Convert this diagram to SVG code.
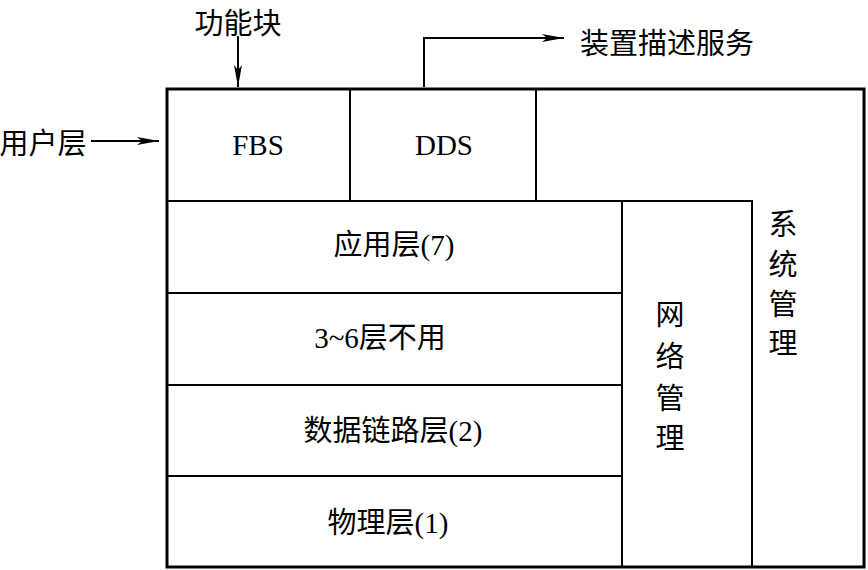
<svg xmlns="http://www.w3.org/2000/svg" width="868" height="570" viewBox="0 0 868 570">
<style>
.ln{fill:none;stroke:#000;stroke-width:2}
.ol{fill:none;stroke:#000;stroke-width:3}
.t{font-family:"Liberation Serif","Noto Sans CJK SC",serif;font-size:29px;fill:#000;text-anchor:middle;dominant-baseline:central}
.c{font-family:"Noto Sans CJK SC",sans-serif;font-size:29px;fill:#000;text-anchor:middle;dominant-baseline:central}
</style>
<defs>
<marker id="ah" viewBox="0 0 22 10" refX="22" refY="5" markerWidth="22" markerHeight="10" markerUnits="userSpaceOnUse" orient="auto">
<path d="M0,1 L22,5 L0,9 L5,5 Z" fill="#000"/>
</marker>
</defs>
<rect x="0" y="0" width="868" height="570" fill="#fff"/>
<g id="outer"><rect class="ol" x="167" y="89" width="697" height="478"/></g>
<g id="fbs"><rect class="ln" x="167" y="89" width="183" height="112"/><text class="t" x="258" y="145">FBS</text></g>
<g id="dds"><rect class="ln" x="350" y="89" width="186" height="112"/><text class="t" x="444" y="145">DDS</text></g>
<g id="app"><rect class="ln" x="167" y="201" width="455" height="92"/><text class="t" x="394" y="245">应用层(7)</text></g>
<g id="l36"><rect class="ln" x="167" y="293" width="455" height="92"/><text class="t" x="380" y="338">3~6层不用</text></g>
<g id="dll"><rect class="ln" x="167" y="385" width="455" height="91"/><text class="t" x="393" y="431">数据链路层(2)</text></g>
<g id="phy"><rect class="ln" x="167" y="476" width="455" height="91"/><text class="t" x="388" y="523">物理层(1)</text></g>
<g id="netmgmt"><rect class="ln" x="622" y="201" width="130" height="366"/>
<text class="c" x="670" y="312">网</text><text class="c" x="670" y="354">络</text><text class="c" x="670" y="396">管</text><text class="c" x="670" y="436">理</text></g>
<g id="sysmgmt">
<text class="c" x="783" y="222">系</text><text class="c" x="783" y="262">统</text><text class="c" x="783" y="302">管</text><text class="c" x="783" y="341">理</text></g>
<g id="lbl-fb"><text class="c" x="238" y="21">功能块</text></g>
<g id="lbl-user"><text class="c" x="43" y="141">用户层</text></g>
<g id="lbl-dds"><text class="c" x="667" y="41">装置描述服务</text></g>
<g id="connectors">
<line class="ln" x1="238" y1="36" x2="238" y2="87" marker-end="url(#ah)"/>
<line class="ln" x1="91" y1="141" x2="159" y2="141" marker-end="url(#ah)"/>
<polyline class="ln" points="424,87 424,38 564,38" marker-end="url(#ah)"/>
</g>
</svg>
